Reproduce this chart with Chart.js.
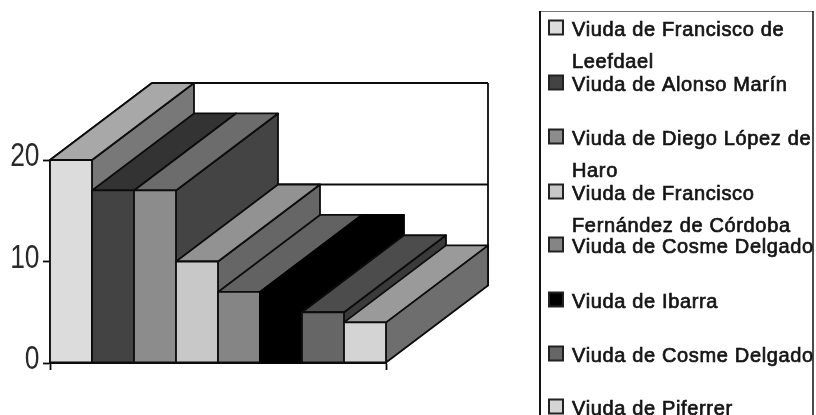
<!DOCTYPE html>
<html>
<head>
<meta charset="utf-8">
<style>html,body{margin:0;padding:0;background:#fff;overflow:hidden}canvas{display:block}</style>
<script src="https://cdn.jsdelivr.net/npm/chart.js@4"></script>
</head>
<body>
<canvas id="c" width="816" height="415"></canvas>
<script>
const categories = [''];
const seriesNames = [
  ['Viuda de Francisco de', 'Leefdael'],
  ['Viuda de Alonso Marín'],
  ['Viuda de Diego López de', 'Haro'],
  ['Viuda de Francisco', 'Fernández de Córdoba'],
  ['Viuda de Cosme Delgado'],
  ['Viuda de Ibarra'],
  ['Viuda de Cosme Delgado'],
  ['Viuda de Piferrer']
];
const seriesValues = [20, 17, 17, 10, 7, 7, 5, 4];
const frontColors = ['#dcdcdc', '#434343', '#8c8c8c', '#c8c8c8', '#858585', '#000000', '#666666', '#d4d4d4'];
const topColors   = ['#a8a8a8', '#333333', '#6c6c6c', '#929292', '#626262', '#000000', '#4c4c4c', '#9a9a9a'];
const sideColors  = ['#787878', '#2c2c2c', '#444444', '#666666', '#4a4a4a', '#000000', '#3a3a3a', '#6e6e6e'];
const yTicks = [0, 10, 20];
const legendRows = [36, 91, 145, 200, 253, 308, 362, 415];

const DX = 102, DY = 77;
const INK = '#0c0c0c';

function poly(ctx, pts, fill) {
  ctx.beginPath();
  pts.forEach((p, i) => i ? ctx.lineTo(p[0], p[1]) : ctx.moveTo(p[0], p[1]));
  ctx.closePath();
  ctx.fillStyle = fill;
  ctx.fill();
  ctx.stroke();
}

const walls = {
  id: 'walls',
  beforeDatasetsDraw(chart) {
    const { ctx, scales: { x, y } } = chart;
    ctx.save();
    ctx.strokeStyle = INK;
    ctx.lineWidth = 1.8;
    ctx.beginPath();
    y.ticks.forEach(t => {
      const py = y.getPixelForValue(t.value) - DY;
      ctx.moveTo(x.left + DX, py);
      ctx.lineTo(x.right + DX, py);
    });
    ctx.moveTo(x.right + DX, y.top - DY);
    ctx.lineTo(x.right + DX, y.bottom - DY);
    ctx.moveTo(x.left, y.top);
    ctx.lineTo(x.left + DX, y.top - DY);
    ctx.stroke();
    ctx.restore();
  }
};

const extrude = {
  id: 'extrude',
  afterDatasetsDraw(chart) {
    const { ctx } = chart;
    ctx.save();
    ctx.lineWidth = 1.8;
    ctx.lineJoin = 'round';
    chart.data.datasets.forEach((ds, i) => {
      ctx.strokeStyle = frontColors[i] === '#000000' ? '#000000' : INK;
      const el = chart.getDatasetMeta(i).data[0];
      const l = el.x - el.width / 2, r = el.x + el.width / 2, t = el.y, b = el.base;
      poly(ctx, [[r, t], [r + DX, t - DY], [r + DX, b - DY], [r, b]], sideColors[i]);
      poly(ctx, [[l, t], [r, t], [r + DX, t - DY], [l + DX, t - DY]], topColors[i]);
      el.draw(ctx);
      ctx.strokeRect(l, t, r - l, b - t);
    });
    ctx.restore();
  }
};

const narrowTicks = {
  id: 'narrowTicks',
  afterDraw(chart) {
    const { ctx, scales: { y } } = chart;
    ctx.save();
    ctx.fillStyle = '#2a2a2a';
    ctx.font = '33px "Liberation Sans", Arial, sans-serif';
    ctx.textAlign = 'right';
    ctx.textBaseline = 'alphabetic';
    y.ticks.forEach(t => {
      ctx.save();
      ctx.translate(39.5, y.getPixelForValue(t.value) + 6);
      ctx.scale(0.8, 1);
      ctx.fillText(String(t.value), 0, 0);
      ctx.restore();
    });
    ctx.restore();
  }
};

const sideLegend = {
  id: 'sideLegend',
  afterDraw(chart) {
    const { ctx } = chart;
    const boxL = 540, boxT = 11, boxR = 813, boxB = 415;
    ctx.save();
    ctx.strokeStyle = '#777';
    ctx.lineWidth = 1;
    ctx.beginPath(); ctx.moveTo(boxL, boxT + 0.5); ctx.lineTo(boxR, boxT + 0.5); ctx.stroke();
    ctx.strokeStyle = '#111';
    ctx.lineWidth = 2;
    ctx.beginPath(); ctx.moveTo(boxL, boxT); ctx.lineTo(boxL, boxB); ctx.stroke();
    ctx.lineWidth = 1.5;
    ctx.beginPath(); ctx.moveTo(boxR, boxT); ctx.lineTo(boxR, boxB); ctx.stroke();
    ctx.font = '20px "Liberation Sans", Arial, sans-serif';
    ctx.letterSpacing = '0.65px';
    ctx.textBaseline = 'alphabetic';
    ctx.textAlign = 'left';
    chart.data.datasets.forEach((ds, i) => {
      const base = legendRows[i];
      ctx.fillStyle = frontColors[i];
      ctx.strokeStyle = '#222';
      ctx.lineWidth = 2;
      ctx.beginPath();
      ctx.rect(549, base - 15.5, 14, 14);
      ctx.fill();
      ctx.stroke();
      ctx.fillStyle = '#151515';
      ctx.strokeStyle = '#151515';
      ctx.lineWidth = 0.7;
      seriesNames[i].forEach((line, k) => {
        ctx.fillText(line, 572, base + k * 31.5);
        ctx.strokeText(line, 572, base + k * 31.5);
      });
    });
    ctx.restore();
  }
};

new Chart(document.getElementById('c'), {
  type: 'bar',
  data: {
    labels: categories,
    datasets: seriesValues.map((v, i) => ({
      label: seriesNames[i].join(' '),
      data: [v],
      backgroundColor: frontColors[i],
      borderWidth: 0
    }))
  },
  options: {
    responsive: false,
    animation: false,
    events: [],
    layout: { padding: { top: 160, right: 430, left: 0, bottom: 0 } },
    datasets: { bar: { categoryPercentage: 1, barPercentage: 1 } },
    plugins: { legend: { display: false }, tooltip: { enabled: false }, title: { display: false } },
    scales: {
      x: {
        afterFit(s) { s.height = 52; },
        ticks: { display: false },
        grid: { offset: true, drawOnChartArea: false, tickLength: 7, tickColor: INK, tickWidth: 1.8 },
        border: { color: INK, width: 2 }
      },
      y: {
        min: 0, max: 20,
        afterFit(s) { s.width = 50; },
        afterBuildTicks(s) { s.ticks = yTicks.map(value => ({ value })); },
        ticks: { display: false },
        grid: { drawOnChartArea: false, tickLength: 7, tickColor: INK, tickWidth: 1.8 },
        border: { color: INK, width: 2 }
      }
    }
  },
  plugins: [walls, extrude, narrowTicks, sideLegend]
});
</script>
</body>
</html>
